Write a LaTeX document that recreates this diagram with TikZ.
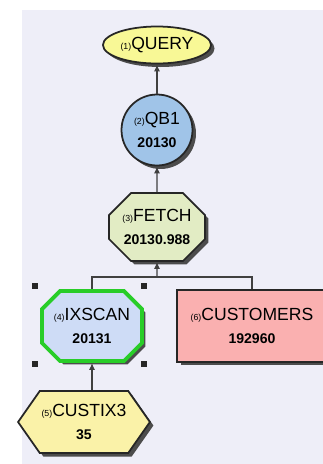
\documentclass[tikz,border=0pt]{standalone}
\usepackage{fontspec}
\setmainfont{Liberation Sans}
\usetikzlibrary{shapes.geometric,shapes.misc,shapes.symbols,shadows,arrows.meta}

\definecolor{bgcol}{RGB}{238,238,248}
\definecolor{queryfill}{RGB}{248,248,150}
\definecolor{qbfill}{RGB}{160,196,232}
\definecolor{fetchfill}{RGB}{226,236,196}
\definecolor{ixfill}{RGB}{206,220,246}
\definecolor{ixline}{RGB}{40,205,40}
\definecolor{custfill}{RGB}{250,176,176}
\definecolor{cxfill}{RGB}{250,242,168}

\newcommand{\opnum}[1]{{\fontsize{5}{5}\selectfont(#1)}}
\newcommand{\opcost}[1]{{\fontsize{8}{9}\selectfont\bfseries #1}}

\begin{document}
\begin{tikzpicture}[x=0.02cm,y=-0.02cm,
  op/.style={draw=black!85,line width=1pt,align=center,inner sep=1pt,
    font=\fontsize{10}{12}\selectfont,
    drop shadow={shadow xshift=0.07cm,shadow yshift=-0.07cm,fill=black!70,opacity=1}},
  arr/.style={-{Latex[length=4pt,width=3.5pt]},black!75,line width=0.8pt},
  link/.style={black!75,line width=0.8pt}]
\useasboundingbox (0,0) rectangle (322,464);
\fill[bgcol] (22,10) rectangle (330,470);

\node[op,ellipse,fill=queryfill,minimum width=1.88cm,minimum height=0.74cm] (query) at (157,45) {\opnum{1}QUERY};
\node[op,circle,fill=qbfill,minimum size=1.42cm] (qb) at (157,130) {\opnum{2}QB1\\[1pt]\opcost{20130}};
\node[op,chamfered rectangle,chamfered rectangle sep=0.22cm,fill=fetchfill,minimum width=1.92cm,minimum height=1.36cm] (fetch) at (157,227) {\opnum{3}FETCH\\[1pt]\opcost{20130.988}};
\node[op,chamfered rectangle,chamfered rectangle sep=0.18cm,fill=ixfill,draw=ixline,line width=2.2pt,minimum width=2cm,minimum height=1.4cm] (ix) at (92,326) {\opnum{4}IXSCAN\\[1pt]\opcost{20131}};
\node[op,rectangle,fill=custfill,minimum width=3cm,minimum height=1.44cm] (cust) at (252,326) {\opnum{6}CUSTOMERS\\[1pt]\opcost{192960}};
\node[op,signal,signal to=east and west,signal pointer angle=110,fill=cxfill,minimum width=2.1cm,minimum height=1.24cm] (cx) at (84,422) {\opnum{5}CUSTIX3\\[1pt]\opcost{35}};

\coordinate (bus) at (157,277);
\draw[arr] (qb) -- (query);
\draw[arr] (fetch) -- (qb);
\draw[arr] (bus) -- (fetch);
\draw[link] (ix.north) |- (bus) -| (cust.north);
\draw[arr] (cx.north -| ix.south) -- (ix.south);

\foreach \hx/\hy in {35/286,144/286,35/364,144/364}
  \fill[black!85] (\hx-3,\hy-3) rectangle (\hx+3,\hy+3);
\end{tikzpicture}
\end{document}
